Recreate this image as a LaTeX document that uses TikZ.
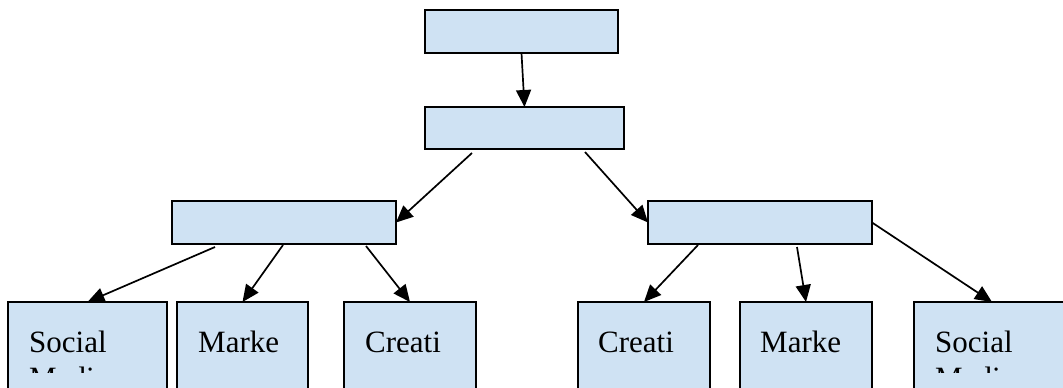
\documentclass[tikz,border=0pt]{standalone}
\usepackage{fontspec}
\setmainfont{Liberation Serif}
\usetikzlibrary{arrows.meta}
\definecolor{boxfill}{HTML}{CFE2F3}
\begin{document}
\begin{tikzpicture}[x=1pt,y=-1pt,
  box/.style={draw=black, line width=1.9pt, fill=boxfill, inner sep=0pt, outer sep=0pt},
  arr/.style={-{Triangle[length=17pt,width=15pt]}, line width=1.7pt, black},
  lbl/.style={anchor=base west, inner sep=0pt, font=\fontsize{31}{36}\selectfont}]
  \clip (0,0) rectangle (1063,388);

  % upper chain
  \node[box, minimum width=193pt, minimum height=43pt] (top) at (521.5,31.5) {};
  \node[box, minimum width=199pt, minimum height=42pt] (mid) at (524.5,128) {};

  % second level
  \node[box, minimum width=224pt, minimum height=43pt] (left) at (284,222.5) {};
  \node[box, minimum width=224pt, minimum height=43pt] (right) at (760,222.5) {};

  % bottom row
  \node[box, minimum width=159pt, minimum height=118pt] (a) at (87.5,361) {};
  \node[box, minimum width=131pt, minimum height=118pt] (b) at (242.5,361) {};
  \node[box, minimum width=132pt, minimum height=118pt] (c) at (410,361) {};
  \node[box, minimum width=132pt, minimum height=118pt] (d) at (644,361) {};
  \node[box, minimum width=132pt, minimum height=118pt] (e) at (806,361) {};
  \node[box, minimum width=156pt, minimum height=118pt] (f) at (992,361) {};

  % labels, cut off at the lower edge of the visible text area
  \begin{scope}
    \clip (0,0) rectangle (1063,372);
    \node[lbl] (ta1) at ([xshift=21pt,yshift=-50pt]a.north west) {Social};
    \node[lbl] (ta2) at ([xshift=21pt,yshift=-86pt]a.north west) {Media};
    \node[lbl] (tb) at ([xshift=21pt,yshift=-50pt]b.north west) {Marke};
    \node[lbl] (tc) at ([xshift=21pt,yshift=-50pt]c.north west) {Creati};
    \node[lbl] (td) at ([xshift=20pt,yshift=-50pt]d.north west) {Creati};
    \node[lbl] (te) at ([xshift=20pt,yshift=-50pt]e.north west) {Marke};
    \node[lbl] (tf1) at ([xshift=21pt,yshift=-50pt]f.north west) {Social};
    \node[lbl] (tf2) at ([xshift=21pt,yshift=-86pt]f.north west) {Media};
  \end{scope}

  % connectors
  \draw[arr] (top.south) -- (mid.north);
  \draw[arr] ([xshift=47pt,yshift=-4pt]mid.south west) -- (left.east);
  \draw[arr] ([xshift=160pt,yshift=-3pt]mid.south west) -- (right.west);

  \draw[arr] ([xshift=43pt,yshift=-3pt]left.south west) -- (a.north);
  \draw[arr] ([xshift=111pt,yshift=-1pt]left.south west) -- (b.north);
  \draw[arr] ([xshift=194pt,yshift=-2pt]left.south west) -- (c.north);

  \draw[arr] ([xshift=50pt,yshift=-1pt]right.south west) -- (d.north);
  \draw[arr] ([xshift=149pt,yshift=-3pt]right.south west) -- (e.north);
  \draw[arr] (right.east) -- (f.north);
\end{tikzpicture}
\end{document}
